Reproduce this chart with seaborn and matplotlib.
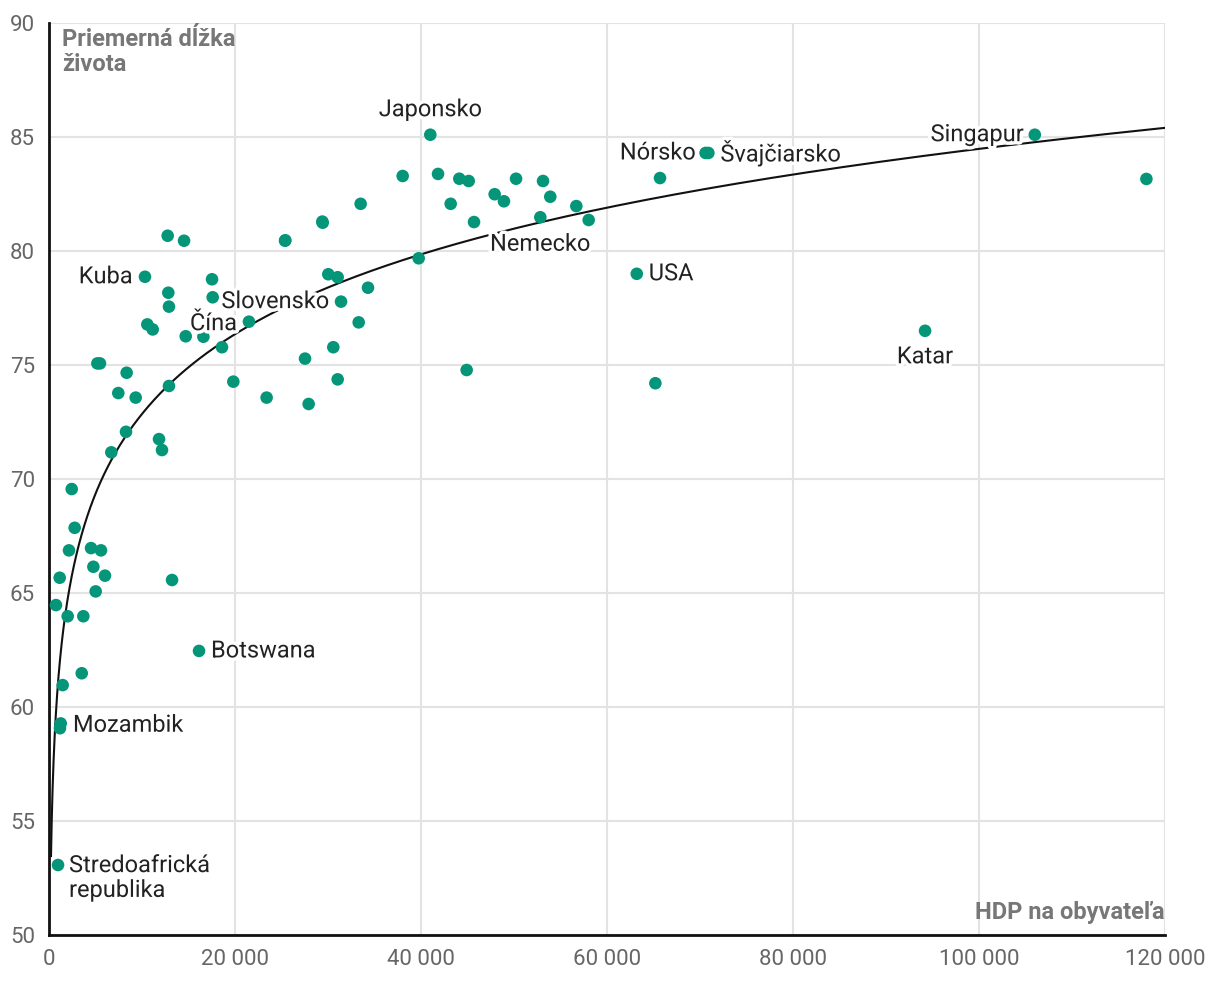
import matplotlib
matplotlib.use("Agg")
import matplotlib.pyplot as plt
import matplotlib.patheffects as pe
import seaborn as sns
import pandas as pd
import numpy as np

TEAL = "#05967a"

# HDP na obyvateľa / priemerná dĺžka života (odčítané z grafu)
gdp = [
    12760, 14520, 25380, 29430, 10320, 17530, 12830, 17600, 12900, 10570,
    11150, 14700, 16600, 21500, 18600, 30030, 31040, 5200, 5480, 8350,
    12900, 19820, 7450, 9320, 23400, 27920, 27530, 30570, 31040, 8280,
    11830, 12150, 6700, 38030, 41830, 44120, 45130, 50220, 53120, 47920,
    48920, 53900, 33510, 43190, 56700, 45700, 52830, 58030, 29390, 25410,
    39750, 34300, 31400, 33300, 44910, 2440, 2760, 2150, 4520, 5590,
    4770, 6020, 1150, 13230, 5020, 750, 2010, 3690, 16130, 3520,
    1470, 1260, 1180, 970, 41000, 106000, 118000, 70600, 70900, 65700,
    63200, 65200, 94200,
]
life = [
    80.67, 80.45, 80.45, 81.24, 78.87, 78.76, 78.17, 77.97, 77.56, 76.78,
    76.56, 76.26, 76.24, 76.9, 75.78, 78.98, 78.85, 75.07, 75.07, 74.66,
    74.08, 74.27, 73.77, 73.57, 73.57, 73.29, 75.28, 75.78, 74.37, 72.07,
    71.75, 71.27, 71.17, 83.29, 83.38, 83.17, 83.07, 83.17, 83.07, 82.49,
    82.18, 82.38, 82.07, 82.07, 81.97, 81.27, 81.48, 81.36, 81.29, 80.47,
    79.68, 78.39, 77.78, 76.87, 74.78, 69.56, 67.86, 66.87, 66.97, 66.87,
    66.15, 65.76, 65.67, 65.57, 65.07, 64.47, 63.98, 63.98, 62.46, 61.48,
    60.96, 59.28, 59.07, 53.07, 85.1, 85.1, 83.16, 84.3, 84.3, 83.2,
    79.0, 74.2, 76.5,
]

# logaritmický trend odčítaný z grafu: život = a + b * ln(HDP)
TREND_A = 26.34
TREND_B = 5.05
TREND_X = [215, 120000]

# popisky: názov, HDP, život, posun (px), zarovnanie
label_names = ["Japonsko", "Singapur", "Nórsko", "Švajčiarsko", "Nemecko", "USA",
               "Katar", "Kuba", "Slovensko", "Čína", "Botswana", "Mozambik",
               "Stredoafrická\nrepublika"]
label_x = [41000, 106000, 70600, 70900, 52830, 63200, 94200, 10320, 31400, 21500,
           16130, 1180, 970]
label_y = [85.1, 85.1, 84.3, 84.3, 81.48, 79.0, 76.5, 78.87, 77.78, 76.9,
           62.46, 59.2, 53.07]
label_dx = [0, -11, -10, 12, 0, 12, 0, -12, -12, -12, 12, 13, 11]
label_dy = [25, 0, 0, 0, -27, 0, -26, 0, 0, -2, 0, 0, -13]
label_ha = ["center", "right", "right", "left", "center", "left", "center",
            "right", "right", "right", "left", "left", "left"]

df = pd.DataFrame({"gdp": gdp, "life": life})

plt.rcParams["font.family"] = ["Roboto", "DejaVu Sans"]

fig = plt.figure(figsize=(12.2, 10.06), dpi=100)
ax = fig.add_axes([49 / 1220, 1 - 935 / 1006, 1116 / 1220, 912 / 1006])

xs = np.geomspace(TREND_X[0], TREND_X[1], 800)
ax.plot(xs, TREND_A + TREND_B * np.log(xs), color="#111111", lw=1.5, zorder=2)

sns.scatterplot(data=df, x="gdp", y="life", color=TEAL, s=82, edgecolor="none",
                ax=ax, zorder=3, legend=False)

halo = [pe.withStroke(linewidth=5, foreground="white")]
for name, x, y, dx, dy, ha in zip(label_names, label_x, label_y, label_dx, label_dy, label_ha):
    ax.annotate(name, (x, y), xytext=(dx * 0.72, dy * 0.72), textcoords="offset points",
                ha=ha, va="center", fontsize=17, color="#222222", zorder=4,
                path_effects=halo, linespacing=1.1)

ax.set_xlim(0, 120000)
ax.set_ylim(50, 90)
ax.set_xticks(range(0, 120001, 20000))
ax.set_yticks(range(50, 91, 5))
ax.xaxis.set_major_formatter(lambda x, _: f"{x:,.0f}".replace(",", " "))
ax.tick_params(length=0, labelsize=16, labelcolor="#666666", pad=10)
ax.grid(True, color="#e3e3e3", lw=1.5, zorder=0)
ax.set_axisbelow(True)
for s in ["top", "right"]:
    ax.spines[s].set_visible(False)
for s in ["left", "bottom"]:
    ax.spines[s].set_color("#111111")
    ax.spines[s].set_linewidth(2)
ax.set_xlabel("")
ax.set_ylabel("")

ax.text(0.012, 0.995, "Priemerná dĺžka\nživota", transform=ax.transAxes, ha="left", va="top",
        fontsize=17, fontweight="bold", color="#777777", linespacing=1.15)
ax.text(1.0, 0.025, "HDP na obyvateľa", transform=ax.transAxes, ha="right", va="center",
        fontsize=17, fontweight="bold", color="#777777")

plt.savefig("out.png", dpi=100, facecolor="w")
